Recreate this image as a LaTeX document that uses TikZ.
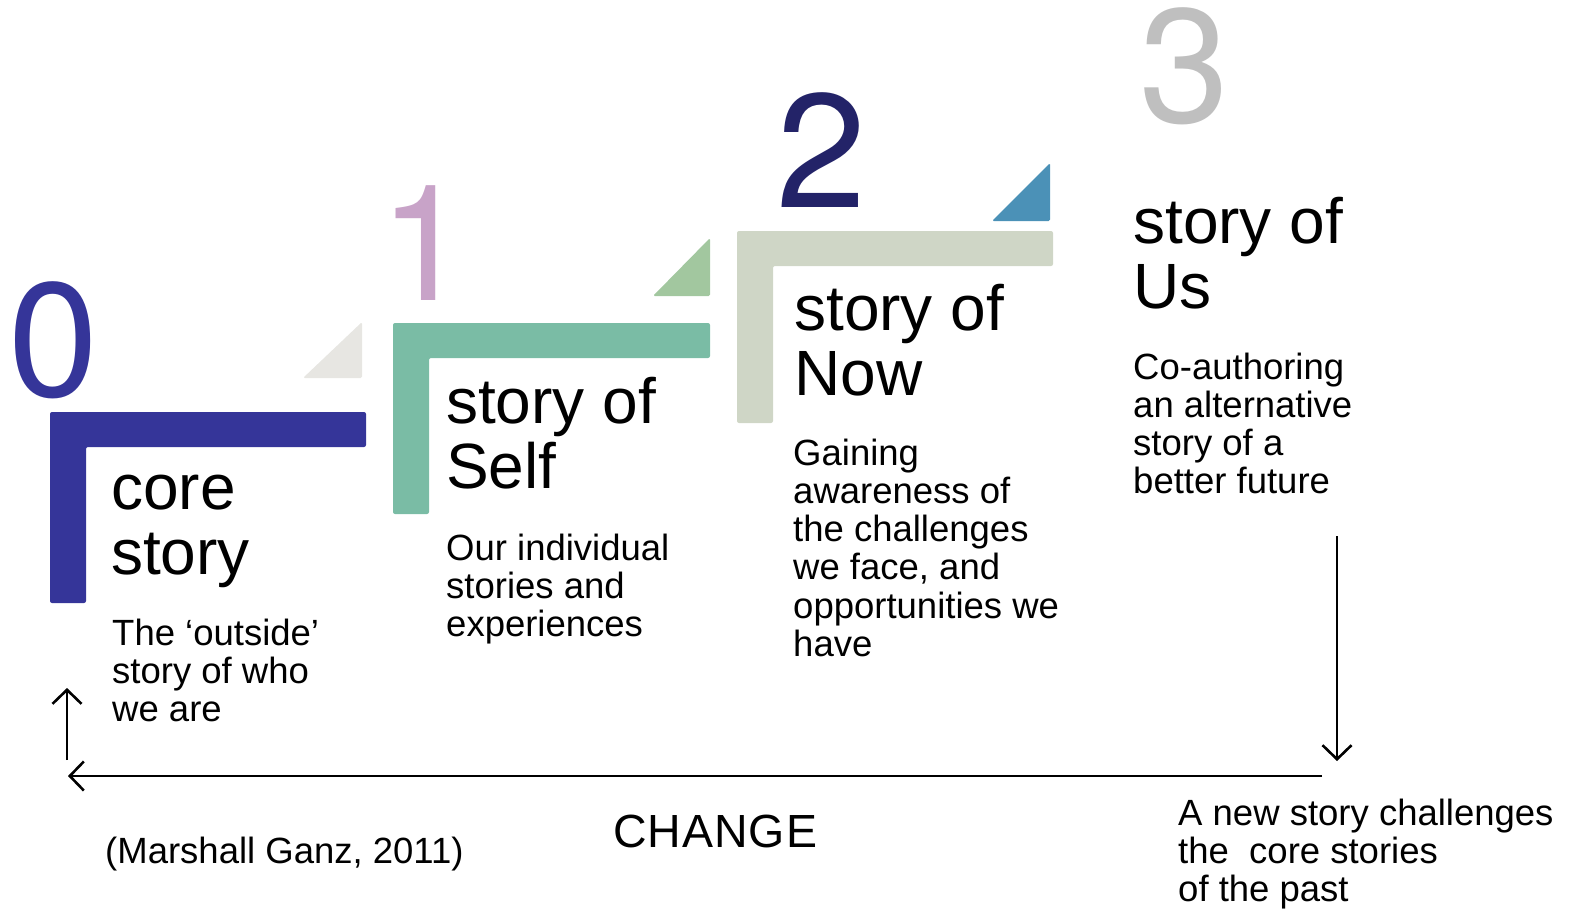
\documentclass[tikz,border=0pt]{standalone}
\usepackage{fontspec}
\setmainfont{Liberation Sans}
\newfontfamily\digitfont{TeX Gyre Heros}
\usetikzlibrary{arrows.meta}
\definecolor{cblue}{HTML}{353599}
\definecolor{cteal}{HTML}{7ABCA5}
\definecolor{csage}{HTML}{CFD6C6}
\definecolor{tgray}{HTML}{E7E6E2}
\definecolor{tgreen}{HTML}{A2C79F}
\definecolor{tblue}{HTML}{4B91B7}
\definecolor{dlilac}{HTML}{C8A3C8}
\definecolor{dnavy}{HTML}{232368}
\definecolor{dgray}{HTML}{BFBFBF}
\newcommand{\vlines}[1]{\vtop{\halign{##\hfil\cr #1\crcr}}}
\begin{document}
\begin{tikzpicture}[x=1pt,y=-1pt,
  lbar/.style={rounded corners=2pt},
  tri/.style={rounded corners=1.5pt},
  digit/.style={anchor=base west,inner sep=0pt,text height=112pt,text depth=0pt,font=\digitfont\fontsize{162}{162}\selectfont},
  title/.style={anchor=base west,inner sep=0pt,font=\fontsize{64}{65.5}\selectfont},
  desc/.style={anchor=base west,inner sep=0pt,font=\fontsize{36.5}{38.3}\selectfont},
  conn/.style={line width=2.6pt,-{Straight Barb[length=14pt,width=29pt]}}]
\useasboundingbox (0,0) rectangle (1578,921);
% L bars
\fill[cblue,lbar] (50,412) -- (366,412) -- (366,447) -- (86,447) -- (86,603) -- (50,603) -- cycle;
\fill[cteal,lbar] (393,323) -- (710,323) -- (710,358) -- (429,358) -- (429,514) -- (393,514) -- cycle;
\fill[csage,lbar] (737,231) -- (1053,231) -- (1053,266) -- (773,266) -- (773,423) -- (737,423) -- cycle;
% triangles
\fill[tgray,tri] (303,378) -- (362,378) -- (362,322) -- cycle;
\fill[tgreen,tri] (653,296) -- (710,296) -- (710,238) -- cycle;
\fill[tblue,tri] (992,221) -- (1050,221) -- (1050,163) -- cycle;
% digits
\node[digit,text=cblue] (d0) at (8,396) {0};
\node[digit,text=dlilac] (d1) at (379,300) {1};
\node[digit,text=dnavy] (d2) at (776,207) {2};
\node[digit,text=dgray] (d3) at (1139,122) {3};
% titles
\node[title] (t0) at (111,509) {\vlines{core\cr story}};
\node[title] (t1) at (446,423) {\vlines{story of\cr Self}};
\node[title] (t2) at (794,330) {\vlines{story of\cr Now}};
\node[title] (t3) at (1133,243) {\vlines{story of\cr Us}};
% descriptions
\node[desc] (s0) at (112,645) {\vlines{The ‘outside’\cr story of who\cr we are}};
\node[desc] (s1) at (446,560) {\vlines{Our individual\cr stories and\cr experiences}};
\node[desc] (s2) at (793,465) {\vlines{Gaining\cr awareness of\cr the challenges\cr we face, and\cr opportunities we\cr have}};
\node[desc] (s3) at (1133,379) {\vlines{Co-authoring\cr an alternative\cr story of a\cr better future}};
\node[desc] (s4) at (1178,825) {\vlines{A new story challenges\cr the\ \ core stories\cr of the past}};
\node[desc] (cite) at (105,863) {(Marshall Ganz, 2011)};
\node[anchor=base west,inner sep=0pt,font=\fontsize{46.5}{50}\selectfont] (chg) at (613,847) {C\kern1pt H\kern1pt A\kern1pt N\kern1pt G\kern1pt E};
% arrows
\coordinate (dA) at (1337,536);
\coordinate (dB) at (1337,761);
\coordinate (hA) at (1322,776);
\coordinate (hB) at (68,776);
\coordinate (uA) at (67,760);
\coordinate (uB) at (67,688);
\draw[conn] (dA) -- (dB);
\draw[conn] (hA) -- (hB);
\draw[conn] (uA) -- (uB);
\end{tikzpicture}
\end{document}
